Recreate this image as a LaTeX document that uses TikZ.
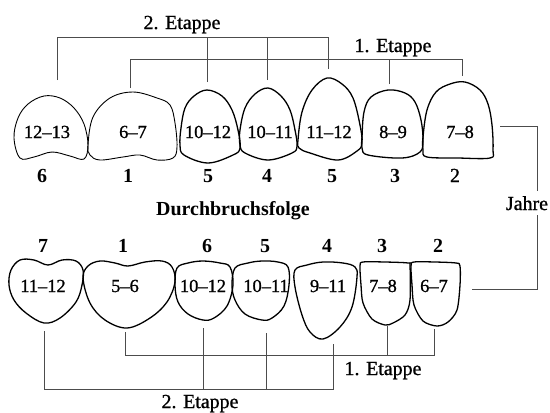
\documentclass[tikz,border=0pt]{standalone}
\usepackage{fontspec}
\setmainfont{Liberation Serif}
\newfontfamily\zahnfont[Ligatures=TeX, FakeBold=1]{Liberation Serif}

\tikzset{
  tooth/.style={line width=1.3bp, line join=round},
  molar/.style={tooth, line width=.9bp},
  zahl/.style={font=\zahnfont\fontsize{18.5}{22}\selectfont, anchor=base},
  folge/.style={font=\bfseries\fontsize{20}{24}\selectfont, anchor=base},
  etappe/.style={font=\zahnfont\fontsize{20}{24}\selectfont, anchor=base},
  klammer/.style={line width=.7bp, black!70}
}

\begin{document}
\begin{tikzpicture}[x=1bp,y=-1bp]
\useasboundingbox (0,0) rectangle (550,412);

% Oberkiefer
\draw[molar] plot[smooth cycle, tension=.6] coordinates {(14,138) (18,118) (28,104) (44,96) (60,98) (74,108) (84,124) (88,145) (84,159) (70,156) (52,152) (34,157) (20,158)};
\draw[molar] plot[smooth cycle, tension=.6] coordinates {(88,145) (93,117) (110,98) (133,92) (157,98) (170,105) (175,123) (177,147) (173,158) (157,160) (140,155) (123,157) (100,160) (90,155)};
\draw[tooth] plot[smooth cycle, tension=.6] coordinates {(181,128) (185,108) (194,96) (207,90) (222,96) (232,110) (238,130) (240,148) (233,155) (208,163) (184,155) (180,145)};
\draw[tooth] plot[smooth cycle, tension=.6] coordinates {(240,130) (245,108) (255,94) (268,88) (281,96) (290,110) (295,130) (297,146) (292,153) (268,160) (245,153) (240,145)};
\draw[tooth] plot[smooth cycle, tension=.6] coordinates {(298,140) (302,112) (312,90) (327,78) (342,84) (353,98) (360,125) (362,143) (357,151) (338,160) (310,153) (299,148)};
\draw[tooth] plot[smooth cycle, tension=.6] coordinates {(362,137) (364,112) (371,97) (388,90) (405,93) (415,102) (421,120) (423,140) (420,152) (402,158) (368,155) (362,148)};
\draw[tooth] plot[smooth cycle, tension=.6] coordinates {(423,137) (427,110) (436,92) (450,84) (465,82) (480,90) (488,104) (492,125) (493,150) (490,158) (458,158) (427,157) (423,150)};

\node[zahl] (o1) at (47,138) {12--13};
\node[zahl] (o2) at (133,138) {6--7};
\node[zahl] (o3) at (208,138) {10--12};
\node[zahl] (o4) at (270,138) {10--11};
\node[zahl] (o5) at (329,138) {11--12};
\node[zahl] (o6) at (393,138) {8--9};
\node[zahl] (o7) at (460,138) {7--8};

\node[folge] (fo1) at (42,182) {6};
\node[folge] (fo2) at (128,182) {1};
\node[folge] (fo3) at (208,182) {5};
\node[folge] (fo4) at (267,182) {4};
\node[folge] (fo5) at (332,182) {5};
\node[folge] (fo6) at (395,182) {3};
\node[etappe] (fo7) at (455,182) {2};

\coordinate (o1f) at (57,80);
\coordinate (o2f) at (130,88);
\coordinate (o3f) at (207,82);
\coordinate (o4f) at (267,80);
\coordinate (o5f) at (328,69);
\coordinate (o6f) at (389,84);
\coordinate (o7f) at (462,76);
\coordinate (e2o) at (0,37);
\coordinate (e1o) at (0,59);

\draw[klammer] (o1f) -- (o1f |- e2o) -- (o5f |- e2o) -- (o5f);
\draw[klammer] (o3f) -- (o3f |- e2o);
\draw[klammer] (o4f) -- (o4f |- e2o);
\draw[klammer] (o2f) -- (o2f |- e1o) -- (o7f |- e1o) -- (o7f);
\draw[klammer] (o6f) -- (o6f |- e1o);

\node[etappe] (et2o) at (182,29) {2. Etappe};
\node[etappe] (et1o) at (393,52) {1. Etappe};

\node[folge] (folge) at (233,215) {Durchbruchsfolge};

% Jahre
\node[etappe, inner sep=5bp] (jahre) at (527,210) {Jahre};
\coordinate (jo) at (500,126);
\coordinate (ju) at (472,289);
\coordinate (jk) at (537,0);
\draw[klammer] (jo) -- (jo -| jk) -- (jk |- jahre.north);
\draw[klammer] (jk |- jahre.south) -- (jk |- ju) -- (ju);

% Unterkiefer
\draw[tooth] plot[smooth cycle, tension=.6] coordinates {(9,285) (11,270) (20,260) (34,260) (48,265) (62,260) (76,261) (83,270) (82,285) (76,302) (60,318) (44,323) (26,313) (14,300)};
\draw[tooth] plot[smooth cycle, tension=.6] coordinates {(83,278) (88,266) (100,261) (115,263) (128,266) (145,262) (162,261) (172,267) (175,282) (167,302) (150,318) (127,328) (105,320) (90,303)};
\draw[tooth] plot[smooth cycle, tension=.6] coordinates {(175,285) (177,268) (188,263) (203,261) (220,263) (230,267) (233,285) (227,306) (214,318) (203,320) (188,314) (178,302)};
\draw[tooth] plot[smooth cycle, tension=.6] coordinates {(232,285) (235,268) (248,263) (262,261) (278,262) (288,267) (289,285) (284,306) (272,318) (262,320) (245,314) (235,300)};
\draw[tooth] plot[smooth cycle, tension=.6] coordinates {(295,287) (295,270) (307,265) (323,262) (343,263) (355,267) (357,277) (352,307) (340,327) (323,339) (310,332) (302,315)};
\draw[tooth] plot[smooth cycle, tension=.5] coordinates {(361,285) (360,266) (363,262) (385,262) (408,263) (410,266) (410,300) (405,315) (393,323) (385,325) (372,319) (363,303)};
\draw[tooth] plot[smooth cycle, tension=.5] coordinates {(412,285) (411,266) (414,262) (435,262) (456,263) (460,266) (460,285) (457,310) (448,322) (437,326) (423,321) (414,305)};

\node[zahl] (u1) at (43,292) {11--12};
\node[zahl] (u2) at (125,292) {5--6};
\node[zahl] (u3) at (203,292) {10--12};
\node[zahl] (u4) at (266,292) {10--11};
\node[zahl] (u5) at (328,292) {9--11};
\node[zahl] (u6) at (383,292) {7--8};
\node[zahl] (u7) at (434,292) {6--7};

\node[folge] (fu1) at (43,252) {7};
\node[folge] (fu2) at (123,252) {1};
\node[folge] (fu3) at (207,252) {6};
\node[folge] (fu4) at (265,252) {5};
\node[folge] (fu5) at (327,252) {4};
\node[folge] (fu6) at (382,252) {3};
\node[folge] (fu7) at (438,252) {2};

\coordinate (u1f) at (44,331);
\coordinate (u2f) at (125,332);
\coordinate (u3f) at (203,328);
\coordinate (u4f) at (266,333);
\coordinate (u5f) at (333,344);
\coordinate (u6f) at (387,326);
\coordinate (u7f) at (434,329);
\coordinate (e1u) at (0,355);
\coordinate (e2u) at (0,389);

\draw[klammer] (u2f) -- (u2f |- e1u) -- (u7f |- e1u) -- (u7f);
\draw[klammer] (u6f) -- (u6f |- e1u);
\draw[klammer] (u1f) -- (u1f |- e2u) -- (u5f |- e2u) -- (u5f);
\draw[klammer] (u3f) -- (u3f |- e2u);
\draw[klammer] (u4f) -- (u4f |- e2u);

\node[etappe] (et1u) at (383,375) {1. Etappe};
\node[etappe] (et2u) at (200,408) {2. Etappe};

\end{tikzpicture}
\end{document}
